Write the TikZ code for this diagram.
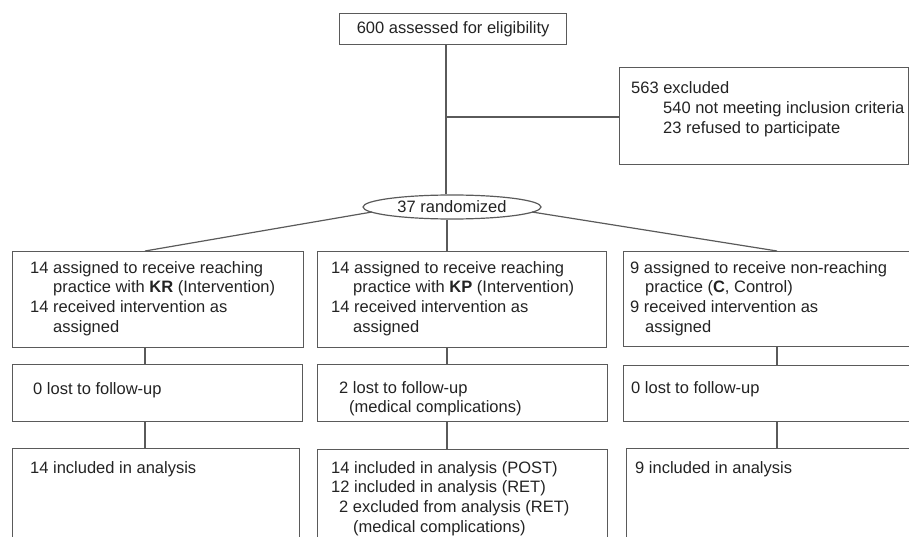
\documentclass[tikz,border=0pt]{standalone}
\usepackage{fontspec}
\setmainfont{Liberation Sans}
\usepackage{tikz}
\usetikzlibrary{shapes.geometric, positioning, calc}
\definecolor{linegray}{RGB}{90,90,90}
\definecolor{inkgray}{RGB}{35,35,35}
\newcommand{\flowfont}{\fontsize{16.5}{19.8}\selectfont}

\begin{document}
\begin{tikzpicture}[
    x=1pt, y=-1pt,
    flowbox/.style 2 args={rectangle, draw=linegray, line width=1.2pt, anchor=north west,
                           minimum width=#1, minimum height=#2, inner sep=0pt,
                           text=inkgray, font=\flowfont},
    txt/.style={anchor=base west, align=left, inner sep=0pt, text=inkgray, font=\flowfont},
    link/.style={draw=linegray, line width=1.2pt}
]
    \useasboundingbox (0,0) rectangle (909,537);
    \clip (0,0) rectangle (909,537);

    % Enrollment (text nodes sit on the baseline of their last line)
    \node[flowbox={227}{31}] (elig) at (339,13) {600 assessed for eligibility};
    \node[flowbox={289}{97}] (excl) at (619,67) {};
    \node[txt] (excltxt) at ($(excl.north west)+(12,66.6)$) {563 excluded\\
        \hspace*{32pt}540 not meeting inclusion criteria\\
        \hspace*{32pt}23 refused to participate};
    \node[ellipse, draw=linegray, line width=1.2pt, minimum width=178, minimum height=24,
          inner sep=0pt, text=inkgray, font=\flowfont] (rand) at (452,207) {37 randomized};

    % Allocation
    \node[flowbox={291}{96}] (kr) at (12,251) {};
    \node[flowbox={289}{96}] (kp) at (317,251) {};
    \node[flowbox={300}{95}] (ctl) at (623,251) {};
    \node[txt] (krtxt) at ($(kr.north west)+(18,81.4)$) {14 assigned to receive reaching\\
        \hspace*{23pt}practice with \textbf{KR} (Intervention)\\
        14 received intervention as\\
        \hspace*{23pt}assigned};
    \node[txt] (kptxt) at ($(kp.north west)+(14,81.4)$) {14 assigned to receive reaching\\
        \hspace*{22pt}practice with \textbf{KP} (Intervention)\\
        14 received intervention as\\
        \hspace*{22pt}assigned};
    \node[txt] (ctltxt) at ($(ctl.north west)+(7,81.4)$) {9 assigned to receive non-reaching\\
        \hspace*{15pt}practice (\textbf{C}, Control)\\
        9 received intervention as\\
        \hspace*{15pt}assigned};

    % Follow-up
    \node[flowbox={290}{57}] (krlost) at (12,364) {};
    \node[flowbox={290}{57}] (kplost) at (317,364) {};
    \node[flowbox={300}{56}] (ctllost) at (623,365) {};
    \node[txt] (krlosttxt) at ($(krlost.north west)+(21,30)$) {0 lost to follow-up};
    \node[txt] (kplosttxt) at ($(kplost.north west)+(22,48.8)$) {2 lost to follow-up\\
        \hspace*{10pt}(medical complications)};
    \node[txt] (ctllosttxt) at ($(ctllost.north west)+(8,28)$) {0 lost to follow-up};

    % Analysis
    \node[flowbox={287}{100}] (krana) at (12,448) {};
    \node[flowbox={290}{100}] (kpana) at (317,449) {};
    \node[flowbox={300}{100}] (ctlana) at (626,448) {};
    \node[txt] (kranatxt) at ($(krana.north west)+(18,25)$) {14 included in analysis};
    \node[txt] (kpanatxt) at ($(kpana.north west)+(14,83.4)$) {14 included in analysis (POST)\\
        12 included in analysis (RET)\\
        \hspace*{8pt}2 excluded from analysis (RET)\\
        \hspace*{22pt}(medical complications)};
    \node[txt] (ctlanatxt) at ($(ctlana.north west)+(9,25)$) {9 included in analysis};

    % connectors
    \coordinate (split) at (446,117);
    \coordinate (colA) at (145,0);
    \coordinate (colB) at (447,0);
    \coordinate (colC) at (777,0);
    \draw[link] (split |- elig.south) -- (split |- rand.north);
    \draw[link] (split) -- (split -| excl.west);
    \draw[link] ($(rand.center)+(-80,5)$) -- (colA |- kr.north);
    \draw[link] (colB |- rand.south) -- (colB |- kp.north);
    \draw[link] ($(rand.center)+(80,5)$) -- (colC |- ctl.north);
    \draw[link] (colA |- kr.south) -- (colA |- krlost.north);
    \draw[link] (colB |- kp.south) -- (colB |- kplost.north);
    \draw[link] (colC |- ctl.south) -- (colC |- ctllost.north);
    \draw[link] (colA |- krlost.south) -- (colA |- krana.north);
    \draw[link] (colB |- kplost.south) -- (colB |- kpana.north);
    \draw[link] (colC |- ctllost.south) -- (colC |- ctlana.north);
\end{tikzpicture}
\end{document}
